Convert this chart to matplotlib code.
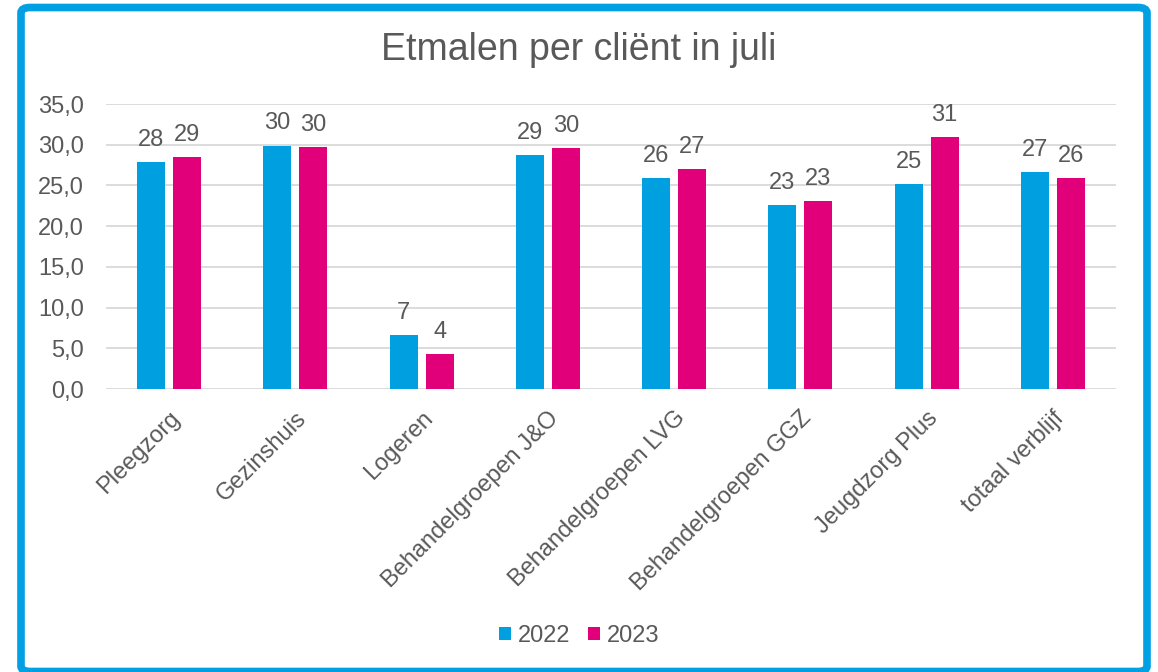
import matplotlib
matplotlib.use("Agg")
import matplotlib.pyplot as plt
from matplotlib.patches import FancyBboxPatch
from matplotlib.ticker import FuncFormatter
import numpy as np

categories = ["Pleegzorg", "Gezinshuis", "Logeren", "Behandelgroepen J&O",
              "Behandelgroepen LVG", "Behandelgroepen GGZ", "Jeugdzorg Plus",
              "totaal verblijf"]
values_2022 = [27.9, 29.9, 6.6, 28.7, 25.9, 22.6, 25.2, 26.6]
values_2023 = [28.5, 29.7, 4.3, 29.6, 27.0, 23.1, 30.9, 25.9]
series_names = ["2022", "2023"]
y_ticks = [0, 5, 10, 15, 20, 25, 30, 35]

plt.rcParams['font.family'] = ['Liberation Sans', 'DejaVu Sans']
TXT = "#595959"
C1 = "#009FE0"
C2 = "#E2007A"

W, H = 1158, 672
fig = plt.figure(figsize=(W / 100, H / 100), dpi=100)
fig.patch.set_facecolor("white")

# frame
frame = FancyBboxPatch((21 / W, 0.5 / H), (1126 / W), (664 / H),
                       boxstyle="round,pad=0,rounding_size=0.008",
                       transform=fig.transFigure, facecolor="none",
                       edgecolor="#00A0E3", linewidth=5.5, zorder=5)
fig.patches.append(frame)

ax = fig.add_axes([106 / W, 1 - 389 / H, (1116 - 106) / W, (389 - 104) / H])
ax.set_facecolor("none")
x = np.arange(len(categories))
bw = 0.222
off = 0.143
b1 = ax.bar(x - off, values_2022, bw, color=C1, label=series_names[0], zorder=3)
b2 = ax.bar(x + off, values_2023, bw, color=C2, label=series_names[1], zorder=3)

for bars, vals in ((b1, values_2022), (b2, values_2023)):
    for rect, v in zip(bars, vals):
        ax.annotate(f"{int(v + 0.5)}", (rect.get_x() + rect.get_width() / 2, v),
                    xytext=(0, 8), textcoords="offset points",
                    ha="center", va="bottom", fontsize=17, color=TXT)

ax.set_xlim(-0.5, len(categories) - 0.5)
ax.set_ylim(0, 35)
ax.set_yticks(y_ticks)
ax.yaxis.set_major_formatter(FuncFormatter(lambda v, p: f"{v:.1f}".replace(".", ",")))
ax.grid(axis="y", color="#D9D9D9", linewidth=1.3, zorder=0)
for s in ax.spines.values():
    s.set_visible(False)
ax.tick_params(axis="both", length=0, labelsize=17, colors=TXT)
ax.tick_params(axis="y", pad=16)
ax.set_xticks(x)
ax.set_xticklabels(categories, rotation=45, ha="right", rotation_mode="anchor")
ax.tick_params(axis="x", pad=13)

fig.text(0.5, 1 - 50 / H, "Etmalen per cliënt in juli", ha="center", va="center",
         fontsize=27, color=TXT)

leg = fig.legend(handles=[b1, b2], loc="center", bbox_to_anchor=(0.5, 1 - 636 / H),
                 ncol=2, frameon=False, fontsize=17, handlelength=0.5,
                 handleheight=0.5, handletextpad=0.3, columnspacing=0.75)
for t in leg.get_texts():
    t.set_color(TXT)

fig.savefig("out.png", dpi=100)
